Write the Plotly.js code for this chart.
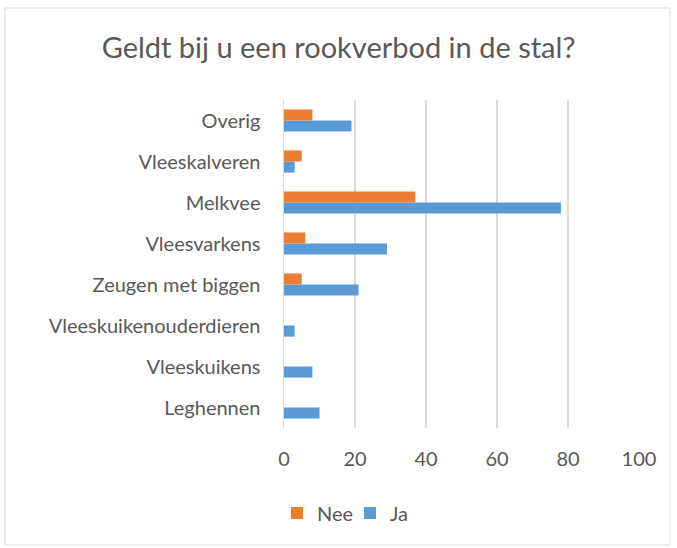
<!DOCTYPE html>
<html>
<head>
<meta charset="utf-8">
<script src="https://cdn.plot.ly/plotly-3.0.1.min.js"></script>
<style>html,body{margin:0;padding:0;background:#fff;}#chart{width:677px;height:548px;}</style>
</head>
<body>
<div id="chart"></div>
<script>
const categories = ["Leghennen", "Vleeskuikens", "Vleeskuikenouderdieren", "Zeugen met biggen", "Vleesvarkens", "Melkvee", "Vleeskalveren", "Overig"];
const jaValues = [10, 8, 3, 21, 29, 78, 3, 19];
const neeValues = [0, 0, 0, 5, 6, 37, 5, 8];
const xTicks = [0, 20, 40, 60, 80, 100];

const font = "Lato, 'Open Sans', sans-serif";
const grey = "#595959";

const data = [
  {type: "bar", orientation: "h", name: "Ja", y: categories, x: jaValues,
   marker: {color: "#5b9bd5"}},
  {type: "bar", orientation: "h", name: "Nee", y: categories, x: neeValues,
   marker: {color: "#ed7d31"}}
];

const layout = {
  width: 677, height: 548,
  margin: {l: 284, r: 38, t: 100, b: 120},
  paper_bgcolor: "#fff", plot_bgcolor: "#fff",
  barmode: "group", bargap: 0.46, bargroupgap: 0,
  title: {text: "Geldt bij u een rookverbod in de stal?", x: 0.5, xanchor: "center",
          y: 1 - 48/548, yanchor: "middle", font: {family: font, size: 29, color: grey}},
  xaxis: {range: [0, 100], tickvals: xTicks, showgrid: true, gridcolor: "#d9d9d9", gridwidth: 1.5,
          zeroline: false, showline: false, ticks: "", ticklen: 0, ticklabelstandoff: 17,
          tickfont: {family: font, size: 20, color: grey}, fixedrange: true},
  yaxis: {type: "category", showgrid: false, zeroline: false, showline: true, linecolor: "#d9d9d9", linewidth: 1.5,
          ticks: "", ticklabelstandoff: 18, tickfont: {family: font, size: 20, color: grey}, fixedrange: true},
  showlegend: true,
  legend: {orientation: "h", x: (277-284)/355, xanchor: "left", y: (428-513)/328, yanchor: "middle",
           itemwidth: 30, entrywidth: 28, entrywidthmode: "pixels",
           traceorder: "reversed", font: {family: font, size: 20, color: grey}},
  shapes: [
    {type: "rect", xref: "paper", yref: "paper", x0: (5-284)/355, x1: (670-284)/355,
     y0: (428-545)/328, y1: (428-8)/328, line: {color: "#d9d9d9", width: 1}, fillcolor: "rgba(0,0,0,0)"}
  ]
};

Plotly.newPlot("chart", data, layout, {displayModeBar: false, staticPlot: true});
</script>
</body>
</html>
